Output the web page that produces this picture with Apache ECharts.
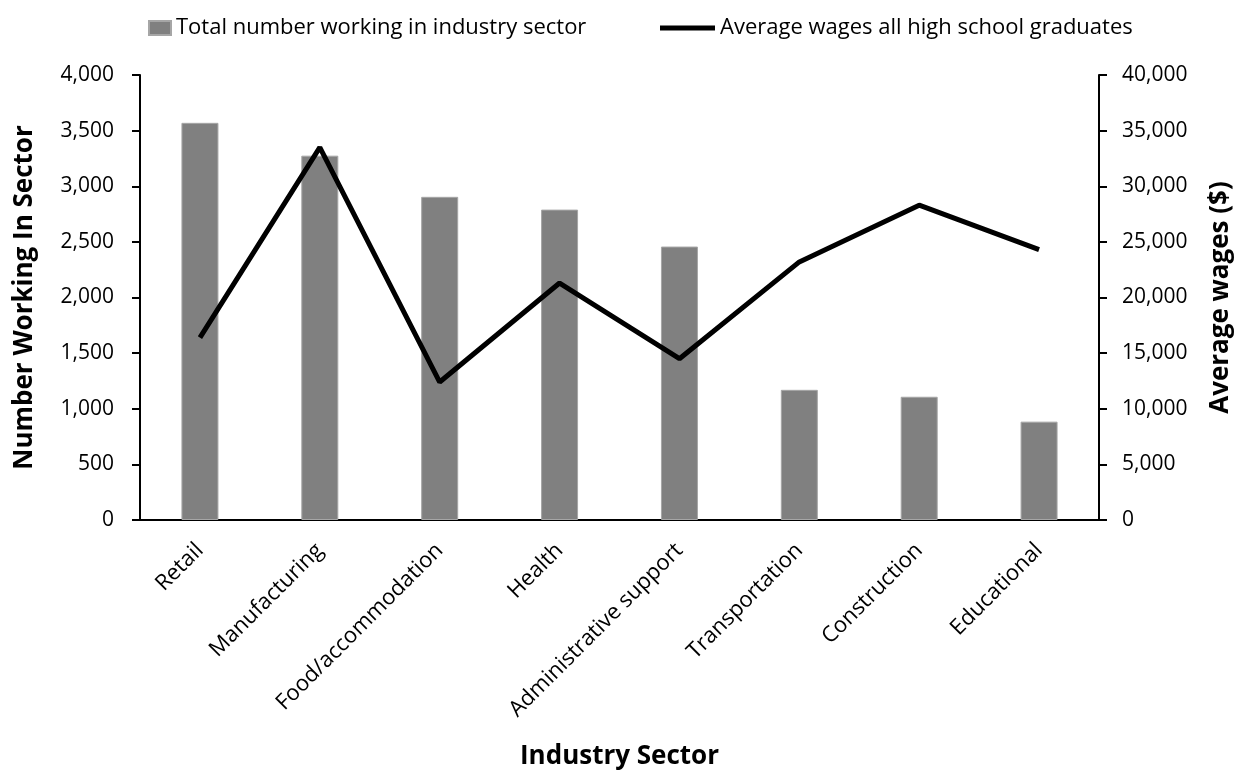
<!DOCTYPE html>
<html><head><meta charset="utf-8">
<script src="https://cdn.jsdelivr.net/npm/echarts@6/dist/echarts.min.js"></script>
<style>html,body{margin:0;padding:0;background:#fff}#c{width:1243px;height:773px}</style>
</head><body><div id="c"></div>
<script>
const categories = ['Retail','Manufacturing','Food/accommodation','Health','Administrative support','Transportation','Construction','Educational'];
const workers = [3570, 3275, 2905, 2790, 2458, 1170, 1108, 884];
const wages = [16400, 33500, 12400, 21300, 14500, 23200, 28300, 24300];
const leftTicks = {min: 0, max: 4000, interval: 500};
const rightTicks = {min: 0, max: 40000, interval: 5000};
const barName = 'Total number working in industry sector';
const lineName = 'Average wages all high school graduates';

const FONT = '"Open Sans", "Noto Sans", sans-serif';
const fmt = v => v.toLocaleString('en-US');
const chart = echarts.init(document.getElementById('c'));
chart.setOption({
  animation: false,
  textStyle: {fontFamily: FONT},
  legend: [
    {data: [barName], left: 143, top: 12, itemWidth: 22, itemHeight: 14, icon: 'rect',
     textStyle: {fontSize: 22, color: '#000', fontFamily: FONT}},
    {data: [lineName], left: 655, top: 12, itemWidth: 55, itemHeight: 5, icon: 'rect',
     textStyle: {fontSize: 22, color: '#000', fontFamily: FONT}}
  ],
  grid: {left: 140, right: 144, top: 75, bottom: 253, containLabel: false, outerBoundsMode: 'none'},
  xAxis: {
    type: 'category', data: categories,
    name: 'Industry Sector', nameLocation: 'middle', nameGap: 224,
    nameTextStyle: {fontSize: 26, fontWeight: 'bold', color: '#000', fontFamily: FONT},
    axisLine: {lineStyle: {color: '#000', width: 2}},
    axisTick: {show: false},
    axisLabel: {rotate: 45, fontSize: 22, color: '#000', margin: 27, fontFamily: FONT}
  },
  yAxis: [
    {type: 'value', min: leftTicks.min, max: leftTicks.max, interval: leftTicks.interval,
     name: 'Number Working In Sector', nameLocation: 'middle', nameGap: 102, nameRotate: 90,
     nameTextStyle: {fontSize: 26, fontWeight: 'bold', color: '#000', fontFamily: FONT},
     axisLine: {show: true, lineStyle: {color: '#000', width: 2}},
     axisTick: {show: true, length: 8, lineStyle: {color: '#000', width: 2}},
     splitLine: {show: false},
     axisLabel: {fontSize: 21, color: '#000', margin: 26, formatter: fmt, fontFamily: FONT}},
    {type: 'value', min: rightTicks.min, max: rightTicks.max, interval: rightTicks.interval,
     position: 'right',
     name: 'Average wages ($)', nameLocation: 'middle', nameGap: 109, nameRotate: 90,
     nameTextStyle: {fontSize: 26, fontWeight: 'bold', color: '#000', fontFamily: FONT},
     axisLine: {show: true, lineStyle: {color: '#000', width: 2}},
     axisTick: {show: true, length: 8, lineStyle: {color: '#000', width: 2}},
     splitLine: {show: false},
     axisLabel: {fontSize: 21, color: '#000', margin: 23, formatter: fmt, fontFamily: FONT}}
  ],
  series: [
    {name: barName, type: 'bar', data: workers, yAxisIndex: 0, barWidth: 37,
     itemStyle: {color: '#808080', borderColor: '#a6a6a6', borderWidth: 1}},
    {name: lineName, type: 'line', data: wages, yAxisIndex: 1, symbol: 'none',
     lineStyle: {color: '#000', width: 5}, itemStyle: {color: '#000'}}
  ]
});
</script></body></html>
